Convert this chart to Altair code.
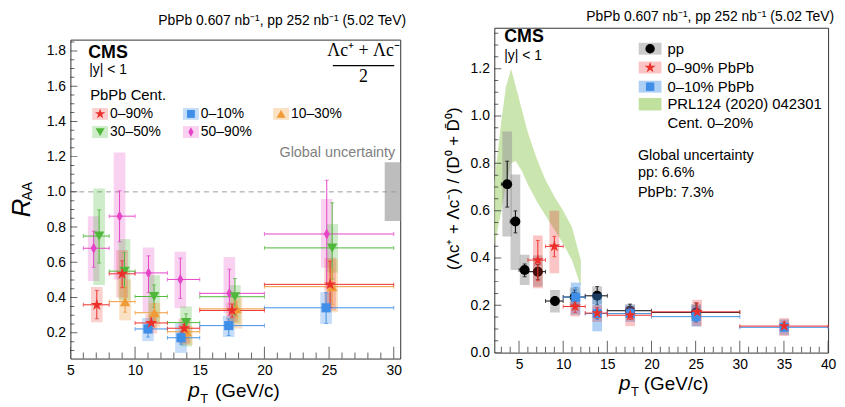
import altair as alt
import pandas as pd

FONT = "Liberation Sans"
SERIF = "Liberation Serif"

STAR = ("M0,-1L0.2245,-0.309L0.9511,-0.309L0.3633,0.118L0.5878,0.809L0,0.382"
        "L-0.5878,0.809L-0.3633,0.118L-0.9511,-0.309L-0.2245,-0.309Z")
DIAMOND = "M0,-1L0.55,0L0,1L-0.55,0Z"

# ---------------- Left panel: R_AA ----------------
L_BIN_LO = [6, 8, 10, 12.5, 15, 20]
L_BIN_HI = [8, 10, 12.5, 15, 20, 30]

c5090_bins = [0, 1, 2, 3, 4, 5]
c5090_x = [6.8, 8.8, 11.04, 13.5, 17.29, 24.82]
c5090_y = [0.68, 0.862, 0.54, 0.503, 0.424, 0.761]
c5090_stat_lo = [0.572, 0.717, 0.429, 0.395, 0.299, 0.46]
c5090_stat_hi = [0.777, 1.006, 0.637, 0.624, 0.561, 1.066]
c5090_sys_lo = [0.494, 0.503, 0.317, 0.34, 0.31, 0.57]
c5090_sys_hi = [0.862, 1.223, 0.684, 0.661, 0.63, 0.959]

c3050_bins = [0, 1, 2, 3, 4, 5]
c3050_x = [7.22, 9.18, 11.47, 13.94, 17.72, 25.24]
c3050_y = [0.749, 0.55, 0.406, 0.258, 0.405, 0.682]
c3050_stat_lo = [0.596, 0.457, 0.345, 0.215, 0.30, 0.505]
c3050_stat_hi = [0.898, 0.656, 0.472, 0.308, 0.508, 0.938]
c3050_sys_lo = [0.472, 0.386, 0.261, 0.122, 0.252, 0.542]
c3050_sys_hi = [1.019, 0.732, 0.527, 0.35, 0.471, 0.817]

c1030_bins = [1, 2, 3, 4, 5]
c1030_x = [9.23, 11.5, 14.0, 17.84, 25.24]
c1030_y = [0.377, 0.314, 0.206, 0.336, 0.462]
c1030_stat_lo = [0.317, 0.261, 0.168, 0.29, 0.36]
c1030_stat_hi = [0.457, 0.364, 0.243, 0.38, 0.56]
c1030_sys_lo = [0.271, 0.23, 0.13, 0.224, 0.317]
c1030_sys_hi = [0.503, 0.37, 0.24, 0.40, 0.619]

c010_bins = [2, 3, 4, 5]
c010_x = [11.0, 13.55, 17.24, 24.77]
c010_y = [0.222, 0.172, 0.241, 0.342]
c010_stat_lo = [0.176, 0.135, 0.185, 0.254]
c010_stat_hi = [0.25, 0.204, 0.279, 0.428]
c010_sys_lo = [0.153, 0.086, 0.176, 0.25]
c010_sys_hi = [0.284, 0.254, 0.297, 0.43]

c090_bins = [0, 1, 2, 3, 4, 5]
c090_x = [7.04, 9.0, 11.25, 13.8, 17.5, 25.08]
c090_y = [0.359, 0.535, 0.256, 0.226, 0.327, 0.475]
c090_stat_lo = [0.28, 0.456, 0.224, 0.204, 0.288, 0.344]
c090_stat_hi = [0.441, 0.609, 0.292, 0.247, 0.363, 0.606]
c090_sys_lo = [0.26, 0.40, 0.196, 0.14, 0.26, 0.327]
c090_sys_hi = [0.46, 0.67, 0.308, 0.28, 0.372, 0.626]

global_left = [0.834, 1.168]

# ---------------- Right panel: Lambda_c / D0 ----------------
R_BIN_LO = [3, 4, 5, 6, 8, 10, 12.5, 15, 20, 30]
R_BIN_HI = [4, 5, 6, 8, 10, 12.5, 15, 20, 30, 40]

pp_bins = [0, 1, 2, 3, 4, 5, 6, 7, 8]
pp_x = [3.66, 4.59, 5.64, 7.13, 9.07, 11.3, 13.85, 17.57, 25.05]
pp_y = [0.712, 0.554, 0.349, 0.342, 0.218, 0.235, 0.240, 0.177, 0.170]
pp_stat_lo = [0.615, 0.506, 0.321, 0.308, 0.200, 0.205, 0.202, 0.150, 0.130]
pp_stat_hi = [0.809, 0.599, 0.375, 0.372, 0.236, 0.265, 0.279, 0.205, 0.210]
pp_sys_lo = [0.491, 0.349, 0.286, 0.279, 0.170, 0.195, 0.205, 0.150, 0.140]
pp_sys_hi = [0.935, 0.753, 0.414, 0.411, 0.265, 0.275, 0.280, 0.205, 0.205]

r010_bins = [5, 6, 7, 8, 9]
r010_x = [11.42, 13.85, 17.59, 25.06, 35.03]
r010_y = [0.234, 0.165, 0.165, 0.152, 0.107]
r010_stat_lo = [0.202, 0.140, 0.150, 0.130, 0.090]
r010_stat_hi = [0.275, 0.190, 0.185, 0.180, 0.125]
r010_sys_lo = [0.160, 0.090, 0.130, 0.110, 0.075]
r010_sys_hi = [0.296, 0.250, 0.200, 0.200, 0.140]

r090_bins = [3, 4, 5, 6, 7, 8, 9]
r090_x = [7.13, 9.0, 11.35, 13.85, 17.59, 25.17, 35.03]
r090_y = [0.391, 0.449, 0.195, 0.167, 0.158, 0.172, 0.112]
r090_stat_lo = [0.304, 0.405, 0.170, 0.145, 0.140, 0.140, 0.095]
r090_stat_hi = [0.474, 0.491, 0.223, 0.190, 0.180, 0.209, 0.130]
r090_sys_lo = [0.272, 0.335, 0.153, 0.130, 0.112, 0.112, 0.070]
r090_sys_hi = [0.495, 0.600, 0.216, 0.200, 0.195, 0.223, 0.146]

band_x = [2.2, 3.0, 3.5, 4.1, 4.6, 5.3, 6.0, 7.0, 8.0, 9.0, 10.0, 11.0, 12.0]
band_hi = [0.72, 0.98, 1.12, 1.20, 1.13, 1.03, 0.93, 0.82, 0.73, 0.66, 0.60, 0.53, 0.39]
band_lo = [0.45, 0.60, 0.70, 0.80, 0.81, 0.77, 0.71, 0.64, 0.58, 0.52, 0.46, 0.39, 0.28]


def sdf(name, bins, x, y, slo, shi, ylo, yhi, blo, bhi):
    return pd.DataFrame({
        "s": name, "x": x, "y": y, "elo": slo, "ehi": shi, "ylo": ylo, "yhi": yhi,
        "blo": [blo[i] for i in bins], "bhi": [bhi[i] for i in bins]})


ONE = pd.DataFrame({"a": [0]})


def txt(t, x, y, size=14, align="left", baseline="middle", color="#000", font=FONT,
        style="normal", weight="normal", angle=0, opacity=1):
    return alt.Chart(ONE).mark_text(
        text=t, align=align, baseline=baseline, fontSize=size, font=font, fontStyle=style,
        fontWeight=weight, color=color, angle=angle, opacity=opacity
    ).encode(x=alt.value(x), y=alt.value(y))


def lbox(x1, x2, y1, y2, color):
    return alt.Chart(ONE).mark_rect(color=color).encode(
        x=alt.value(x1), x2=alt.value(x2), y=alt.value(y1), y2=alt.value(y2))


def lpt(x, y, shape, color, size):
    return alt.Chart(ONE).mark_point(shape=shape, filled=True, opacity=1, color=color,
                                     size=size, strokeWidth=0).encode(x=alt.value(x), y=alt.value(y))


def make_panel(groups, style, xdom, ydom, xmaj, xmin, ymaj, ymin, hw, W, H,
               extra_bottom, extra_top, xtick_len, ytick_len):
    xsc = alt.Scale(domain=xdom, nice=False, zero=False)
    ysc = alt.Scale(domain=ydom, nice=False, zero=False)
    xax = alt.Axis(values=xmaj, format="d", ticks=False, domain=False, grid=False, labelFlush=False,
                   labelOverlap=False, labelFontSize=14, labelFont=FONT, labelColor="#000",
                   labelPadding=5, title=None)
    yax = alt.Axis(values=ymaj, format=".1f", ticks=False, domain=False, grid=False,
                   labelOverlap=False, labelFontSize=14, labelFont=FONT, labelColor="#000",
                   labelPadding=5, title=None)

    def X(f):
        return alt.X(f, type="quantitative", scale=xsc, axis=xax)

    def Y(f):
        return alt.Y(f, type="quantitative", scale=ysc, axis=yax)

    layers = list(extra_bottom(X, Y))
    for grp in groups:
        # systematic boxes first, then bars, then markers
        for name, g in grp:
            c, bc, shape, size = style[name]
            layers.append(alt.Chart(g).transform_calculate(x1=f"datum.x - {hw}", x2=f"datum.x + {hw}")
                          .mark_rect(color=bc).encode(x=X("x1"), x2="x2:Q", y=Y("ylo"), y2="yhi:Q"))
        for name, g in grp:
            c, bc, shape, size = style[name]
            base = alt.Chart(g)
            layers.append(base.mark_rule(strokeWidth=1, color=c).encode(x=X("x"), y=Y("elo"), y2="ehi:Q"))
            layers.append(base.mark_rule(strokeWidth=1, color=c).encode(x=X("blo"), x2="bhi:Q", y=Y("y")))
            layers.append(base.transform_fold(["elo", "ehi"], as_=["k", "v"])
                          .mark_tick(orient="horizontal", size=4, thickness=1, color=c)
                          .encode(x=X("x"), y=Y("v")))
            layers.append(base.transform_fold(["blo", "bhi"], as_=["k", "v"])
                          .mark_tick(orient="vertical", size=4, thickness=1, color=c)
                          .encode(x=X("v"), y=Y("y")))
        for name, g in grp:
            c, bc, shape, size = style[name]
            layers.append(alt.Chart(g).mark_point(filled=True, opacity=1, strokeWidth=0, color=c,
                                                  shape=shape, size=size)
                          .encode(x=X("x"), y=Y("y")))

    # inward ticks (clipped half-ticks)
    for vals, ln in ((xmaj, xtick_len[0]), (xmin, xtick_len[1])):
        d = pd.DataFrame({"v": vals, "b": ydom[0]})
        layers.append(alt.Chart(d).mark_tick(orient="vertical", size=2 * ln, thickness=1,
                                             color="#222", clip=True)
                      .encode(x=X("v"), y=Y("b")))
    for vals, ln in ((ymaj, ytick_len[0]), (ymin, ytick_len[1])):
        d = pd.DataFrame({"v": vals, "b": xdom[0]})
        layers.append(alt.Chart(d).mark_tick(orient="horizontal", size=2 * ln, thickness=1,
                                             color="#222", clip=True)
                      .encode(x=X("b"), y=Y("v")))
    layers += extra_top
    return alt.layer(*layers).properties(width=W, height=H)


# ---------- geometry (page pixels) ----------
TOP = 25.5              # shared origin row (right plot top)
LX0, LY0 = 67, 36
LW, LH = 333, 322
RX0, RY0 = 496, TOP
RW, RH = 337, 328
SPACER_H = LY0 - TOP

L_XDOM = [5, 30.5]
L_YDOM = [0.054, 1.864]

# name: (marker colour, box colour, shape, size)
L_STYLE = {
    "50–90%": ("#e544c6", "rgba(229,68,198,0.24)", DIAMOND, 120),
    "30–50%": ("#4fb83a", "rgba(79,184,58,0.27)", "triangle-down", 110),
    "10–30%": ("#f09a38", "rgba(240,154,56,0.30)", "triangle-up", 110),
    "0–10%": ("#3f8fe8", "rgba(63,143,232,0.30)", "square", 85),
    "0–90%": ("#ec2f2a", "rgba(236,47,42,0.22)", STAR, 160),
}

left_groups = [[
    ("50–90%", sdf("50–90%", c5090_bins, c5090_x, c5090_y, c5090_stat_lo, c5090_stat_hi, c5090_sys_lo, c5090_sys_hi, L_BIN_LO, L_BIN_HI)),
    ("30–50%", sdf("30–50%", c3050_bins, c3050_x, c3050_y, c3050_stat_lo, c3050_stat_hi, c3050_sys_lo, c3050_sys_hi, L_BIN_LO, L_BIN_HI)),
    ("10–30%", sdf("10–30%", c1030_bins, c1030_x, c1030_y, c1030_stat_lo, c1030_stat_hi, c1030_sys_lo, c1030_sys_hi, L_BIN_LO, L_BIN_HI)),
    ("0–10%", sdf("0–10%", c010_bins, c010_x, c010_y, c010_stat_lo, c010_stat_hi, c010_sys_lo, c010_sys_hi, L_BIN_LO, L_BIN_HI)),
    ("0–90%", sdf("0–90%", c090_bins, c090_x, c090_y, c090_stat_lo, c090_stat_hi, c090_sys_lo, c090_sys_hi, L_BIN_LO, L_BIN_HI)),
]]


def left_bottom(X, Y):
    g = pd.DataFrame({"x1": [29.3], "x2": [31.0], "lo": [global_left[0]], "hi": [global_left[1]]})
    gbox = alt.Chart(g).mark_rect(color="#bdbdbd", clip=True).encode(
        x=X("x1"), x2="x2:Q", y=Y("lo"), y2="hi:Q")
    one = pd.DataFrame({"v": [1.0]})
    dash = alt.Chart(one).mark_rule(color="#9a9a9a", strokeDash=[5, 4], strokeWidth=1).encode(
        y=Y("v"), x=alt.value(0), x2=alt.value(LW))
    return [gbox, dash]


def L(x, y):
    return x - LX0, y - LY0


def lt(t, ax, ay, **kw):
    x, y = L(ax, ay)
    return txt(t, x, y, **kw)


left_top = [
    lt("CMS", 85, 49.5, size=18, weight="bold"),
    lt("|y| < 1", 86, 67, size=14),
    lt("PbPb Cent.", 87, 91.7, size=15),
    lt("Global uncertainty", 395, 150, size=14.5, align="right", color="#808080"),
    lt("Λc⁺ + Λc⁻", 363, 48, size=18, align="center", font=SERIF),
    alt.Chart(ONE).mark_rule(color="#000", strokeWidth=1.4).encode(
        x=alt.value(332 - LX0), x2=alt.value(394 - LX0), y=alt.value(62.3 - LY0)),
    lt("2", 363, 74, size=18, align="center", font=SERIF),
    lt("R", 18, 206, size=26, align="center", style="italic", angle=270),
    lt("AA", 24, 189, size=14, align="center", angle=270),
    lt("p", 186, 397, size=21, style="italic", baseline="alphabetic"),
    lt("T", 198, 403, size=13, baseline="alphabetic"),
    lt("(GeV/c)", 213, 397, size=19, baseline="alphabetic"),
]
leg_items = [
    ("0–90%", 97, 111), ("0–10%", 188.7, 111), ("10–30%", 279.7, 111),
    ("30–50%", 97, 129.3), ("50–90%", 188.7, 129.3),
]
for name, cx, cy in leg_items:
    c, bc, shape, size = L_STYLE[name]
    x, y = L(cx, cy)
    left_top.append(lbox(x - 8, x + 8, y - 6, y + 6, bc))
    left_top.append(lpt(x, y, shape, c, size * 0.75))
    left_top.append(txt(name, x + 10, y, size=14))

left = make_panel(
    left_groups, L_STYLE, L_XDOM, L_YDOM,
    [5, 10, 15, 20, 25, 30], [v for v in range(6, 31) if v % 5 != 0],
    [0.2, 0.4, 0.6, 0.8, 1.0, 1.2, 1.4, 1.6, 1.8],
    [round(0.05 * k, 2) for k in range(2, 38) if k % 4 != 0],
    0.45, LW, LH, left_bottom, left_top, (12, 6), (7, 4))

# spacer above the left panel carrying its header text
spacer = txt("PbPb 0.607 nb⁻¹, pp 252 nb⁻¹ (5.02 TeV)", 406 - LX0, 19 - TOP, size=14,
             align="right").properties(width=LW, height=SPACER_H,
                                       view=alt.ViewBackground(strokeOpacity=0))
left_col = alt.vconcat(spacer, left, spacing=0)

# ---------- Right panel ----------
R_XDOM = [2.2, 40]
R_YDOM = [0, 1.373]

R_STYLE = {
    "pp": ("#000000", "rgba(150,150,150,0.5)", "circle", 100),
    "0–10% PbPb": ("#3f8fe8", "rgba(63,143,232,0.42)", "square", 80),
    "0–90% PbPb": ("#ec2f2a", "rgba(236,47,42,0.28)", STAR, 150),
}

right_groups = [
    [("pp", sdf("pp", pp_bins, pp_x, pp_y, pp_stat_lo, pp_stat_hi, pp_sys_lo, pp_sys_hi, R_BIN_LO, R_BIN_HI))],
    [("0–10% PbPb", sdf("0–10% PbPb", r010_bins, r010_x, r010_y, r010_stat_lo, r010_stat_hi, r010_sys_lo, r010_sys_hi, R_BIN_LO, R_BIN_HI)),
     ("0–90% PbPb", sdf("0–90% PbPb", r090_bins, r090_x, r090_y, r090_stat_lo, r090_stat_hi, r090_sys_lo, r090_sys_hi, R_BIN_LO, R_BIN_HI))],
]


def right_bottom(X, Y):
    b = pd.DataFrame({"x": band_x, "lo": band_lo, "hi": band_hi})
    return [alt.Chart(b).mark_area(color="#c2e0a0", opacity=0.85, clip=True).encode(
        x=X("x"), y=Y("lo"), y2="hi:Q")]


def R(x, y):
    return x - RX0, y - RY0


def rt(t, ax, ay, **kw):
    x, y = R(ax, ay)
    return txt(t, x, y, **kw)


right_top = [
    rt("PbPb 0.607 nb⁻¹, pp 252 nb⁻¹ (5.02 TeV)", 839, 15, size=14, align="right"),
    rt("CMS", 506, 35, size=18, weight="bold"),
    rt("|y| < 1", 506, 54.5, size=14),
    rt("Global uncertainty", 641, 155, size=14.5),
    rt("pp: 6.6%", 641, 172, size=14.5),
    rt("PbPb: 7.3%", 641, 192, size=14.5),
    rt("(Λc⁺ + Λc⁻) / (D⁰ + D̄⁰)", 455, 188, size=17, align="center", angle=270),
    rt("p", 622, 391, size=21, style="italic", baseline="alphabetic"),
    rt("T", 634, 397, size=13, baseline="alphabetic"),
    rt("(GeV/c)", 647, 391, size=19, baseline="alphabetic"),
]
r_leg = [("pp", 46.7), ("0–90% PbPb", 65.7), ("0–10% PbPb", 85)]
for name, cy in r_leg:
    c, bc, shape, size = R_STYLE[name]
    x, y = R(653.3, cy)
    right_top.append(lbox(x - 11.5, x + 11.5, y - 6, y + 6, bc))
    right_top.append(lpt(x, y, shape, c, size * 0.9))
    right_top.append(txt(name, x + 17.5, y, size=15))
x, y = R(653.3, 102.7)
right_top.append(lbox(x - 11.5, x + 11.5, y - 6.3, y + 6.3, "rgba(180,220,140,0.85)"))
right_top.append(txt("PRL124 (2020) 042301", x + 17.5, y, size=15))
right_top.append(txt("Cent. 0–20%", x + 17.5, y + 19, size=15))

right = make_panel(
    right_groups, R_STYLE, R_XDOM, R_YDOM,
    [5, 10, 15, 20, 25, 30, 35, 40], [v for v in range(3, 40) if v % 5 != 0],
    [0.0, 0.2, 0.4, 0.6, 0.8, 1.0, 1.2],
    [round(0.05 * k, 2) for k in range(1, 28) if k % 4 != 0],
    0.55, RW, RH, right_bottom, right_top, (12, 6), (7, 4))

chart = alt.hconcat(left_col, right, spacing=38).properties(padding=0).configure_view(
    stroke="#333", strokeWidth=1)

chart.save("out.html", embed_options={"renderer": "svg", "actions": False})
